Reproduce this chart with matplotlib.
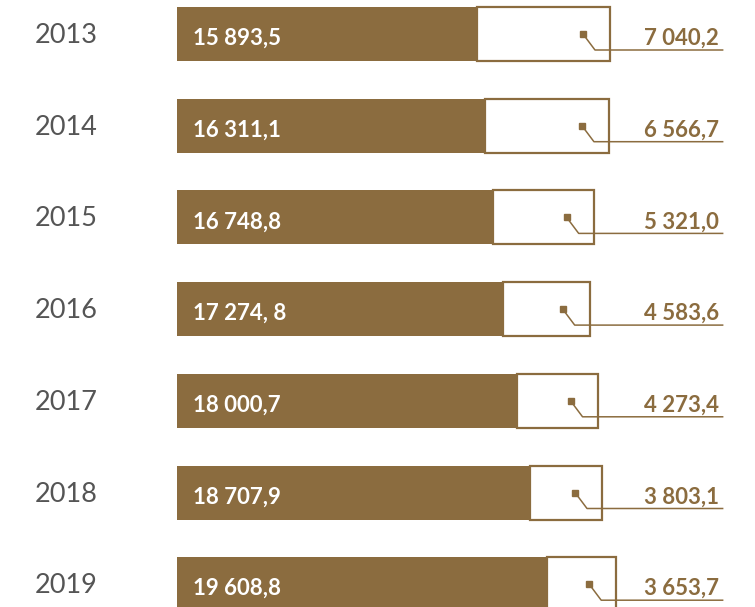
import matplotlib.pyplot as plt
from matplotlib.patches import Rectangle

years = ["2013", "2014", "2015", "2016", "2017", "2018", "2019"]
base = [15893.5, 16311.1, 16748.8, 17274.8, 18000.7, 18707.9, 19608.8]
extra = [7040.2, 6566.7, 5321.0, 4583.6, 4273.4, 3803.1, 3653.7]
base_lbl = ["15 893,5", "16 311,1", "16 748,8", "17 274, 8", "18 000,7", "18 707,9", "19 608,8"]
extra_lbl = ["7 040,2", "6 566,7", "5 321,0", "4 583,6", "4 273,4", "3 803,1", "3 653,7"]

brown = "#8b6c3f"
grey = "#555555"

W, H = 755, 607
px = 0.01888          # pixels per unit
x0 = 177              # pixel where value 0 sits
row = 91.7            # pixel spacing between rows
top = 34              # pixel of first row centre

fig = plt.figure(figsize=(W / 100, H / 100), dpi=100)
ax = fig.add_axes([0, 0, 1, 1])
ax.set_xlim(-x0 / px, (W - x0) / px)
ax.set_ylim((H - top) / row, -top / row)
ax.axis("off")

bh = 54 / row
for i, y in enumerate(years):
    # white remainder box, then the filled part on top
    ax.add_patch(Rectangle((base[i], i - bh / 2), extra[i], bh, facecolor="white",
                           edgecolor=brown, lw=1.6, zorder=1))
    ax.barh(i, base[i], height=bh, left=0, color=brown, zorder=3)

    total = base[i] + extra[i]
    mx = total - 27 / px
    ex = mx + 12 / px
    ey = i + 16 / row
    ax.plot([mx, ex, 28900], [i, ey, ey], color=brown, lw=1.1, zorder=4)
    ax.plot(mx, i, marker="s", ms=4.5, color=brown, zorder=5)

    ax.text((66 - x0) / px, i + 9 / row, y, ha="center", va="baseline",
            fontsize=19.5, color=grey, family="Lato", weight="normal")
    ax.text(16 / px, i + 11 / row, base_lbl[i], ha="left", va="baseline",
            fontsize=16, color="white", family="Lato", weight="bold", zorder=6)
    ax.text(28700, i + 11 / row, extra_lbl[i], ha="right", va="baseline",
            fontsize=16, color=brown, family="Lato", weight="bold", zorder=6)

fig.savefig("out.png", dpi=100)
